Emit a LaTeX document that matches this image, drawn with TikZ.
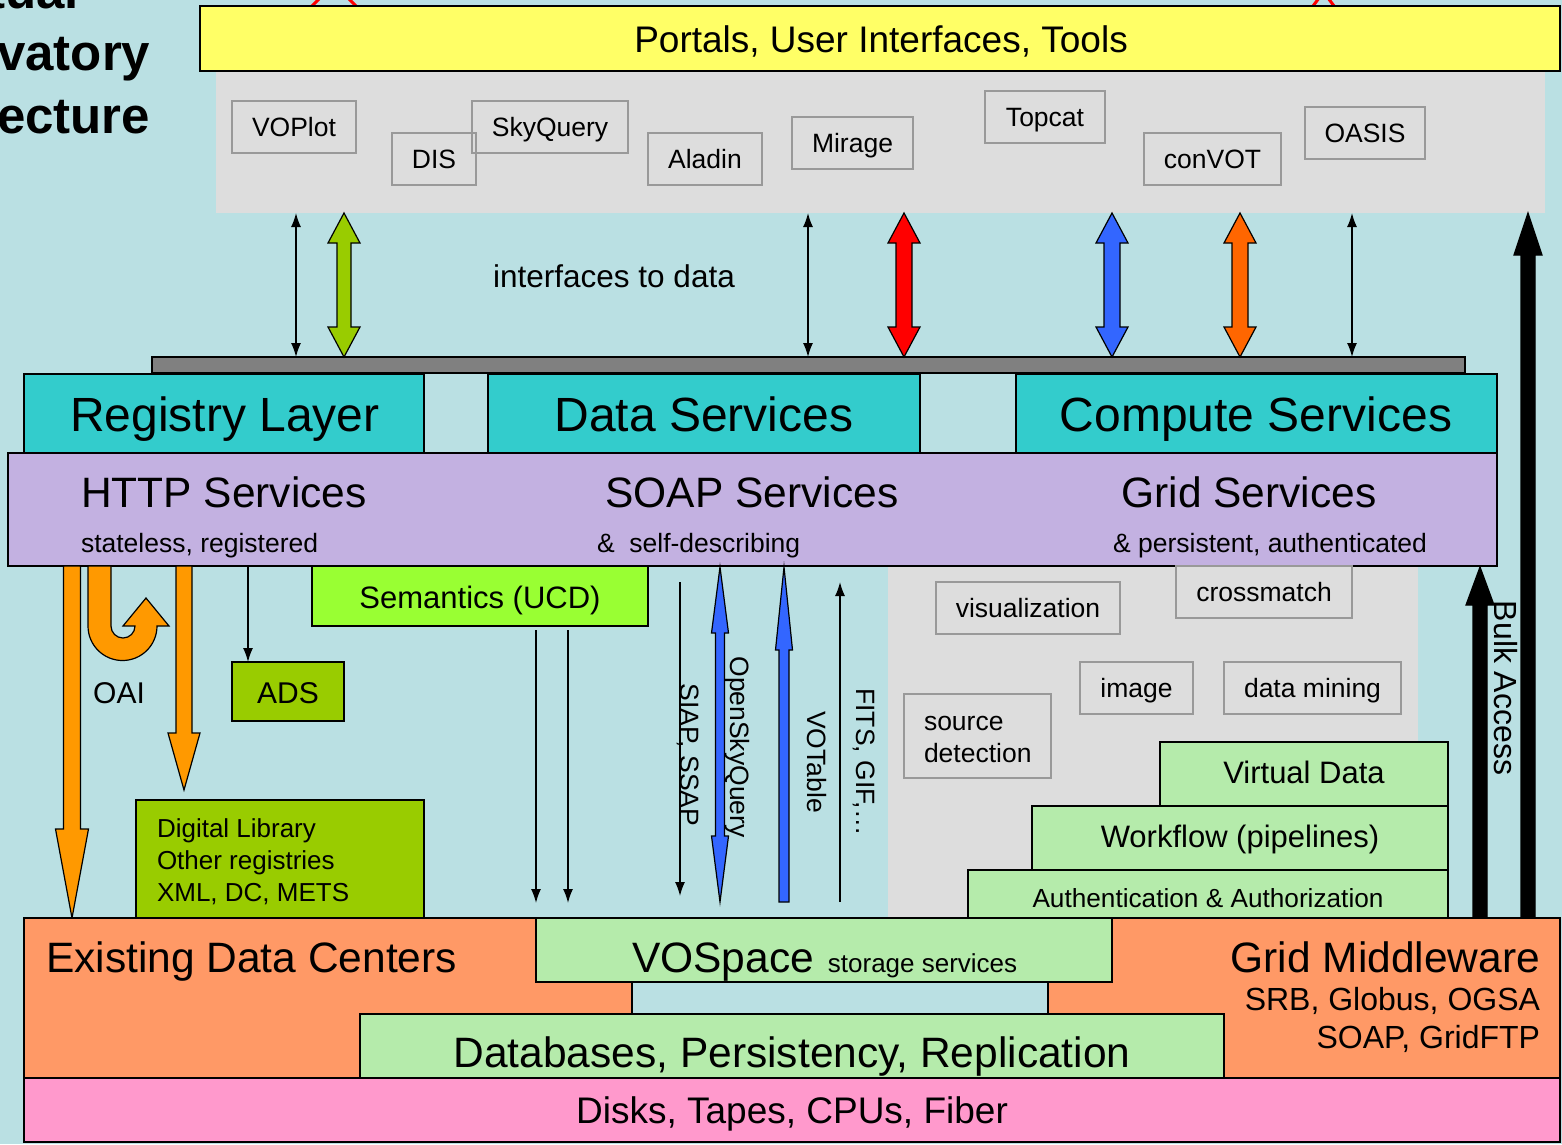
\documentclass[tikz,border=0pt]{standalone}
\usepackage{fontspec}
\setmainfont{Liberation Sans}
\usetikzlibrary{arrows.meta}
\definecolor{bgc}{HTML}{BAE0E3}
\definecolor{panelgray}{HTML}{DDDDDD}
\definecolor{toolline}{HTML}{999999}
\definecolor{yell}{HTML}{FFFF66}
\definecolor{cyanc}{HTML}{33CCCC}
\definecolor{lav}{HTML}{C3B1E1}
\definecolor{dgreen}{HTML}{99CC00}
\definecolor{bgreen}{HTML}{99FF33}
\definecolor{lgreen}{HTML}{B5EBAB}
\definecolor{orbox}{HTML}{FF9966}
\definecolor{pinkc}{HTML}{FF99CC}
\definecolor{orarr}{HTML}{FF9900}
\definecolor{orfat}{HTML}{FF6600}
\definecolor{bluec}{HTML}{3366FF}
\definecolor{barc}{HTML}{808080}
\definecolor{redc}{HTML}{FF0000}
\newcommand{\fsz}[2]{\fontsize{#1}{#2}\selectfont}
% box: name, x1, y1, x2, y2, style, text
\newcommand{\bx}[7]{\node[#6, minimum width={(#4)-(#2)}, minimum height={(#5)-(#3)}] (#1) at (#2,#3) {#7};}
% fat double arrow: x, ytop, ybot, shaft half, head half, head length, colour
\newcommand{\fatdbl}[7]{\filldraw[fill=#7,draw=black,line width=1.2pt] (#1,#2) -- (#1+#5,#2+#6) -- (#1+#4,#2+#6) -- (#1+#4,#3-#6) -- (#1+#5,#3-#6) -- (#1,#3) -- (#1-#5,#3-#6) -- (#1-#4,#3-#6) -- (#1-#4,#2+#6) -- (#1-#5,#2+#6) -- cycle;}
% fat up arrow: x, ytip, ytail, shaft half, head half, head length, colour
\newcommand{\fatup}[7]{\filldraw[fill=#7,draw=black,line width=1.2pt] (#1,#2) -- (#1+#5,#2+#6) -- (#1+#4,#2+#6) -- (#1+#4,#3) -- (#1-#4,#3) -- (#1-#4,#2+#6) -- (#1-#5,#2+#6) -- cycle;}
% fat down arrow: x, ytip, ytail, shaft half, head half, head length, colour
\newcommand{\fatdown}[7]{\filldraw[fill=#7,draw=black,line width=1.2pt] (#1,#2) -- (#1+#5,#2-#6) -- (#1+#4,#2-#6) -- (#1+#4,#3) -- (#1-#4,#3) -- (#1-#4,#2-#6) -- (#1-#5,#2-#6) -- cycle;}
\begin{document}
\begin{tikzpicture}[x=1pt,y=-1pt,
  every node/.style={inner sep=0pt,outer sep=0pt},
  lay/.style={draw=black,line width=2pt,anchor=north west},
  tool/.style={draw=toolline,line width=1.5pt,fill=panelgray,anchor=north west,font=\fsz{26.5}{32},text height=19pt,text depth=0pt},
  thinarrow/.style={line width=1.5pt,-{Latex[length=14pt,width=10pt]}},
  thindbl/.style={line width=1.5pt,{Latex[length=14pt,width=10pt]}-{Latex[length=14pt,width=10pt]}},
  big/.style={font=\fsz{48}{56}},
  mid/.style={font=\fsz{42.5}{50}},
  med/.style={font=\fsz{31}{37}},
  small/.style={font=\fsz{26.5}{32}}]
\useasboundingbox (0,0) rectangle (1562,1144);
\clip (0,0) rectangle (1562,1144);
\fill[bgc] (0,0) rectangle (1562,1144);
% title (cut off at the left edge, as in the reference)
\node[font=\bfseries\fsz{51}{60},anchor=base] (t1) at (0,8) {Virtual};
\node[font=\bfseries\fsz{51}{60},anchor=base] (t2) at (0,70) {Observatory};
\node[font=\bfseries\fsz{51}{60},anchor=base] (t3) at (0,133) {Architecture};
% red marks at the top
\draw[redc,line width=3pt] (312,6) -- (320,-2) (348,-2) -- (356,6);
\draw[redc,line width=3pt] (1313,6) -- (1319,-2) (1328,-2) -- (1334,6);
% tools panel
\bx{panel}{216}{72}{1545}{213}{fill=panelgray,anchor=north west}{}
\bx{portal}{200}{6}{1560}{71}{lay,fill=yell}{}
\node[font=\fsz{37}{44},anchor=base] (portaltxt) at (881,52) {Portals, User Interfaces, Tools};
\bx{voplot}{232}{101}{356}{153}{tool}{VOPlot}
\bx{skyq}{472}{101}{628}{153}{tool}{SkyQuery}
\bx{dis}{392}{133}{476}{185}{tool,fill=none}{DIS}
\bx{aladin}{648}{133}{762}{185}{tool}{Aladin}
\bx{mirage}{792}{117}{913}{169}{tool}{Mirage}
\bx{topcat}{985}{91}{1105}{143}{tool}{Topcat}
\bx{convot}{1144}{133}{1281}{185}{tool}{conVOT}
\bx{oasis}{1305}{107}{1425}{159}{tool}{OASIS}
% lower grey compute area
\fill[panelgray] (888,566) rectangle (1418,918);
% grey bar
\bx{bar}{152}{357}{1465}{373}{draw=black,line width=1.5pt,fill=barc,anchor=north west}{}
% interface arrows
\draw[thindbl] (296,0 |- panel.south) -- (296,0 |- bar.north);
\fatdbl{344}{213}{357}{7}{16}{30}{dgreen}
\draw[thindbl] (808,0 |- panel.south) -- (808,0 |- bar.north);
\fatdbl{904}{213}{357}{8}{16}{30}{redc}
\fatdbl{1112}{213}{357}{8}{16}{30}{bluec}
\fatdbl{1240}{213}{357}{8}{16}{30}{orfat}
\draw[thindbl] (1352,0 |- panel.south) -- (1352,0 |- bar.north);
\node[font=\fsz{31.5}{38},anchor=base] (itd) at (614,287) {interfaces to data};
% cyan layer
\bx{reg}{24}{374}{424}{453}{lay,fill=cyanc}{}
\bx{data}{488}{374}{920}{453}{lay,fill=cyanc}{}
\bx{comp}{1016}{374}{1497}{453}{lay,fill=cyanc}{}
\node[big,anchor=base] at (225,431) {Registry Layer};
\node[big,anchor=base] at (704,431) {Data Services};
\node[big,anchor=base] at (1256,431) {Compute Services};
% services layer
\bx{soap}{8}{453}{1497}{566}{lay,fill=lav}{}
\node[mid,anchor=base west] at (81,507) {HTTP Services};
\node[small,anchor=base west] at (81,552) {stateless, registered};
\node[mid,anchor=base] at (752,507) {SOAP Services};
\node[small,anchor=base west] at (597,552) {\&\ \ self-describing};
\node[mid,anchor=base] at (1249,507) {Grid Services};
\node[small,anchor=base] at (1270,552) {\& persistent, authenticated};
% registry side
\fatdown{72}{918}{566}{8.5}{16.5}{89}{orarr}
\fatdown{184}{790}{566}{8}{16}{57}{orarr}
\filldraw[fill=orarr,draw=black,line width=1.2pt] (88,566) -- (88,626)
  .. controls (88,645.05) and (103.45,660.5) .. (122.5,660.5)
  .. controls (141.55,660.5) and (157,645.05) .. (157,626)
  -- (169,626) -- (146,598) -- (123,626) -- (135,626)
  .. controls (135,632.63) and (129.63,638) .. (123,638)
  .. controls (116.37,638) and (111,632.63) .. (111,626)
  -- (111,566) -- cycle;
\node[font=\fsz{30}{36},anchor=base] (oai) at (119,703) {OAI};
\bx{ads}{232}{662}{344}{721}{lay,fill=dgreen}{}
\node[font=\fsz{30}{36},anchor=base] at (288,703) {ADS};
\draw[thinarrow] (248,0 |- soap.south) -- (248,0 |- ads.north);
\bx{dlib}{136}{800}{424}{918}{lay,fill=dgreen}{}
\node[font=\fsz{26}{32},anchor=base west] at (157,837) {Digital Library};
\node[font=\fsz{26}{32},anchor=base west] at (157,869) {Other registries};
\node[font=\fsz{26}{32},anchor=base west] at (157,901) {XML, DC, METS};
% data side
\bx{sem}{312}{566}{648}{626}{lay,fill=bgreen}{}
\node[med,anchor=base] at (480,608) {Semantics (UCD)};
\coordinate (d1) at (536,630);
\coordinate (d2) at (568,630);
\draw[thinarrow] (d1) -- (536,903);
\draw[thinarrow] (d2) -- (568,903);
\draw[thinarrow] (680,582) -- (680,896);
\fatdbl{720}{567}{902}{4.5}{8.5}{66}{bluec}
\fatup{784}{567}{902}{5}{8.5}{83}{bluec}
\draw[thinarrow] (840,902) -- (840,582);
\node[small,rotate=-90] at (688,755) {SIAP, SSAP};
\node[small,rotate=-90] at (737,747) {OpenSkyQuery};
\node[small,rotate=-90] at (817,762) {VOTable};
\node[small,rotate=-90] at (864,762) {FITS, GIF,…};
% compute side
\bx{vis}{936}{582}{1120}{634}{tool}{visualization}
\bx{cross}{1176}{566}{1352}{618}{tool}{crossmatch}
\bx{img}{1080}{662}{1193}{714}{tool}{image}
\bx{dm}{1224}{662}{1401}{714}{tool}{data mining}
\bx{src}{904}{694}{1051}{778}{tool}{}
\node[small,anchor=base west] at (924,730) {source};
\node[small,anchor=base west] at (924,762) {detection};
\bx{auth}{968}{870}{1448}{918}{lay,fill=lgreen}{}
\bx{wf}{1032}{806}{1448}{870}{lay,fill=lgreen}{}
\bx{vd}{1160}{742}{1448}{806}{lay,fill=lgreen}{}
\node[med,anchor=base] at (1304,783) {Virtual Data};
\node[med,anchor=base] at (1240,847) {Workflow (pipelines)};
\node[font=\fsz{26.2}{32},anchor=base] at (1208,907) {Authentication \& Authorization};
% bottom layers
\bx{edc}{24}{918}{632}{1078}{lay,fill=orbox}{}
\bx{gm}{1048}{918}{1560}{1078}{lay,fill=orbox}{}
\bx{vos}{536}{918}{1112}{982}{lay,fill=lgreen}{}
\bx{db}{360}{1014}{1224}{1078}{lay,fill=lgreen}{}
\bx{disk}{24}{1078}{1560}{1142}{lay,fill=pinkc}{}
\node[mid,anchor=base west] at (46,972) {Existing Data Centers};
\node[anchor=base west] at (632,972) {\fsz{42.5}{50}VOSpace\hspace{14pt}\fsz{26}{32}storage services};
\node[mid,anchor=base east] at (1540,972) {Grid Middleware};
\node[font=\fsz{32}{38},anchor=base east] at (1540,1010) {SRB, Globus, OGSA};
\node[font=\fsz{32}{38},anchor=base east] at (1540,1048) {SOAP, GridFTP};
\node[mid,anchor=base] at (792,1067) {Databases, Persistency, Replication};
\node[font=\fsz{37}{44},anchor=base] at (792,1123) {Disks, Tapes, CPUs, Fiber};
% bulk access
\fatup{1480}{567}{918}{7}{14}{38}{black}
\fatup{1528}{213}{918}{7}{14}{42}{black}
\node[font=\fsz{32}{38},rotate=-90] (bulk) at (1506,688) {Bulk Access};
\end{tikzpicture}
\end{document}
